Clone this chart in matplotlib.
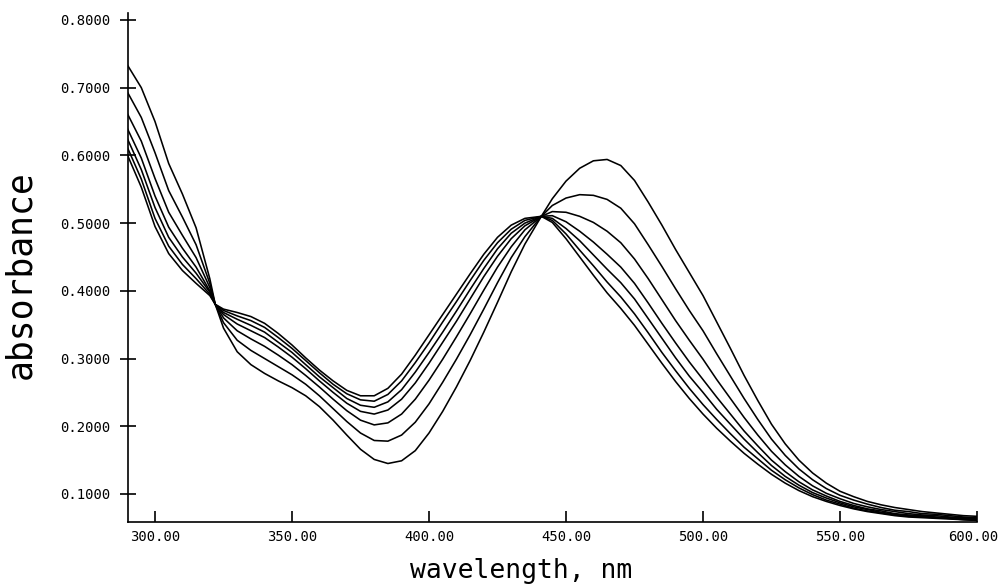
"""
Spectres d'absorption superposes (7 courbes, points isobestiques)
"""

import matplotlib
matplotlib.use('Agg')
import matplotlib.pyplot as plt
import matplotlib.transforms as mtransforms
from matplotlib.ticker import FormatStrFormatter

# longueurs d'onde (nm)
wavelength = [290, 295, 300, 305, 310, 315, 320, 322,
              325, 330, 335, 340, 345, 350, 355, 360, 365, 370, 375, 380,
              385, 390, 395, 400, 405, 410, 415, 420, 425, 430, 435, 441,
              445, 450, 455, 460, 465, 470, 475, 480, 485, 490, 495, 500,
              505, 510, 515, 520, 525, 530, 535, 540, 545, 550, 555, 560,
              565, 570, 575, 580, 585, 590, 595, 600]

# absorbance de chaque spectre
spectre_1 = [0.733, 0.700, 0.650, 0.588, 0.543, 0.493, 0.418, 0.380,
             0.345, 0.310, 0.291, 0.278, 0.267, 0.257, 0.245, 0.229, 0.209, 0.187, 0.166, 0.151,
             0.145, 0.149, 0.164, 0.190, 0.222, 0.258, 0.297, 0.339, 0.383, 0.428, 0.469, 0.510,
             0.536, 0.562, 0.581, 0.592, 0.594, 0.585, 0.563, 0.531, 0.497, 0.461, 0.427, 0.393,
             0.354, 0.315, 0.275, 0.238, 0.203, 0.174, 0.150, 0.131, 0.116, 0.104, 0.096, 0.089,
             0.084, 0.080, 0.077, 0.074, 0.072, 0.070, 0.068, 0.067]
spectre_2 = [0.693, 0.656, 0.604, 0.548, 0.509, 0.468, 0.411, 0.380,
             0.353, 0.327, 0.312, 0.300, 0.288, 0.276, 0.262, 0.245, 0.226, 0.207, 0.190, 0.179,
             0.178, 0.187, 0.206, 0.233, 0.265, 0.299, 0.335, 0.373, 0.412, 0.449, 0.480, 0.510,
             0.526, 0.537, 0.542, 0.541, 0.535, 0.522, 0.499, 0.468, 0.436, 0.403, 0.371, 0.341,
             0.307, 0.274, 0.241, 0.210, 0.181, 0.157, 0.137, 0.121, 0.108, 0.098, 0.091, 0.085,
             0.080, 0.076, 0.074, 0.071, 0.070, 0.068, 0.066, 0.065]
spectre_3 = [0.661, 0.621, 0.566, 0.516, 0.482, 0.449, 0.405, 0.380,
             0.360, 0.341, 0.329, 0.318, 0.305, 0.291, 0.275, 0.258, 0.240, 0.223, 0.209, 0.202,
             0.205, 0.218, 0.240, 0.268, 0.299, 0.332, 0.366, 0.401, 0.435, 0.465, 0.490, 0.510,
             0.517, 0.516, 0.510, 0.501, 0.488, 0.471, 0.447, 0.418, 0.387, 0.356, 0.327, 0.299,
             0.269, 0.241, 0.213, 0.187, 0.163, 0.143, 0.126, 0.112, 0.101, 0.093, 0.086, 0.081,
             0.077, 0.074, 0.071, 0.069, 0.068, 0.066, 0.065, 0.064]
spectre_4 = [0.639, 0.596, 0.540, 0.494, 0.463, 0.435, 0.400, 0.380,
             0.365, 0.351, 0.341, 0.331, 0.317, 0.302, 0.285, 0.267, 0.250, 0.234, 0.222, 0.218,
             0.224, 0.240, 0.264, 0.293, 0.324, 0.355, 0.388, 0.421, 0.451, 0.477, 0.496, 0.510,
             0.511, 0.502, 0.488, 0.472, 0.454, 0.435, 0.411, 0.382, 0.352, 0.323, 0.295, 0.269,
             0.243, 0.218, 0.193, 0.171, 0.150, 0.133, 0.118, 0.106, 0.097, 0.089, 0.083, 0.078,
             0.075, 0.071, 0.069, 0.068, 0.066, 0.065, 0.064, 0.063]
spectre_5 = [0.624, 0.579, 0.523, 0.479, 0.450, 0.426, 0.398, 0.380,
             0.368, 0.358, 0.349, 0.339, 0.324, 0.309, 0.291, 0.273, 0.257, 0.241, 0.231, 0.228,
             0.236, 0.254, 0.280, 0.309, 0.339, 0.370, 0.402, 0.433, 0.462, 0.485, 0.500, 0.510,
             0.507, 0.492, 0.474, 0.453, 0.432, 0.412, 0.388, 0.359, 0.330, 0.301, 0.274, 0.250,
             0.225, 0.203, 0.181, 0.161, 0.142, 0.126, 0.113, 0.102, 0.094, 0.087, 0.081, 0.077,
             0.073, 0.070, 0.068, 0.067, 0.065, 0.064, 0.063, 0.062]
spectre_6 = [0.611, 0.565, 0.507, 0.466, 0.439, 0.418, 0.395, 0.380,
             0.371, 0.363, 0.356, 0.346, 0.331, 0.315, 0.297, 0.279, 0.262, 0.248, 0.239, 0.237,
             0.247, 0.267, 0.294, 0.323, 0.354, 0.384, 0.415, 0.445, 0.471, 0.491, 0.504, 0.510,
             0.504, 0.484, 0.460, 0.437, 0.413, 0.391, 0.366, 0.338, 0.309, 0.282, 0.256, 0.232,
             0.210, 0.189, 0.169, 0.152, 0.135, 0.121, 0.109, 0.099, 0.091, 0.085, 0.079, 0.075,
             0.072, 0.069, 0.067, 0.066, 0.065, 0.064, 0.062, 0.061]
spectre_7 = [0.600, 0.553, 0.495, 0.455, 0.430, 0.411, 0.393, 0.380,
             0.373, 0.368, 0.362, 0.352, 0.337, 0.320, 0.301, 0.283, 0.267, 0.253, 0.245, 0.245,
             0.256, 0.277, 0.305, 0.335, 0.365, 0.395, 0.425, 0.454, 0.479, 0.497, 0.507, 0.510,
             0.501, 0.477, 0.450, 0.423, 0.397, 0.374, 0.349, 0.321, 0.293, 0.266, 0.241, 0.218,
             0.197, 0.178, 0.160, 0.144, 0.129, 0.116, 0.105, 0.096, 0.089, 0.083, 0.078, 0.074,
             0.071, 0.068, 0.066, 0.065, 0.064, 0.063, 0.062, 0.061]

x_ticks = [300, 350, 400, 450, 500, 550, 600]
y_ticks = [0.1, 0.2, 0.3, 0.4, 0.5, 0.6, 0.7, 0.8]


def tracer_spectres(output_path):
    """Trace les spectres superposes"""
    fig = plt.figure(figsize=(10, 5.86), dpi=100)
    ax = fig.add_axes([0.1276, 0.1092, 0.8494, 0.8683])

    spectres = [spectre_1, spectre_2, spectre_3, spectre_4, spectre_5, spectre_6, spectre_7]
    for valeurs in spectres:
        ax.plot(wavelength, valeurs, color='black', linewidth=1.15)

    ax.set_xlim(290, 600)
    ax.set_ylim(0.0586, 0.81)

    ax.spines['top'].set_visible(False)
    ax.spines['right'].set_visible(False)
    ax.spines['left'].set_linewidth(1.2)
    ax.spines['bottom'].set_linewidth(1.2)

    ax.set_xticks(x_ticks)
    ax.set_yticks(y_ticks)
    ax.xaxis.set_major_formatter(FormatStrFormatter('%.2f'))
    ax.yaxis.set_major_formatter(FormatStrFormatter('%.4f'))

    police = 'DejaVu Sans Mono'
    ax.tick_params(axis='y', direction='inout', length=11, width=1.2, pad=7,
                   labelsize=10, labelfontfamily=police)
    ax.tick_params(axis='x', direction='in', length=8, width=1.2, pad=6,
                   labelsize=10, labelfontfamily=police)

    # le dernier libelle deborde a droite, on le decale un peu
    fig.canvas.draw()
    dernier = ax.get_xticklabels()[-1]
    decalage = mtransforms.ScaledTranslation(-4 / 100, 0, fig.dpi_scale_trans)
    dernier.set_transform(dernier.get_transform() + decalage)

    fig.text(0.521, 0.004, 'wavelength, nm', ha='center', va='bottom',
             fontsize=19, family=police)
    fig.text(0.020, 0.531, 'absorbance', ha='center', va='center', rotation=90,
             fontsize=25, family=police)

    plt.savefig(output_path, dpi=100)
    plt.close()


def main():
    tracer_spectres('out.png')


if __name__ == "__main__":
    main()
